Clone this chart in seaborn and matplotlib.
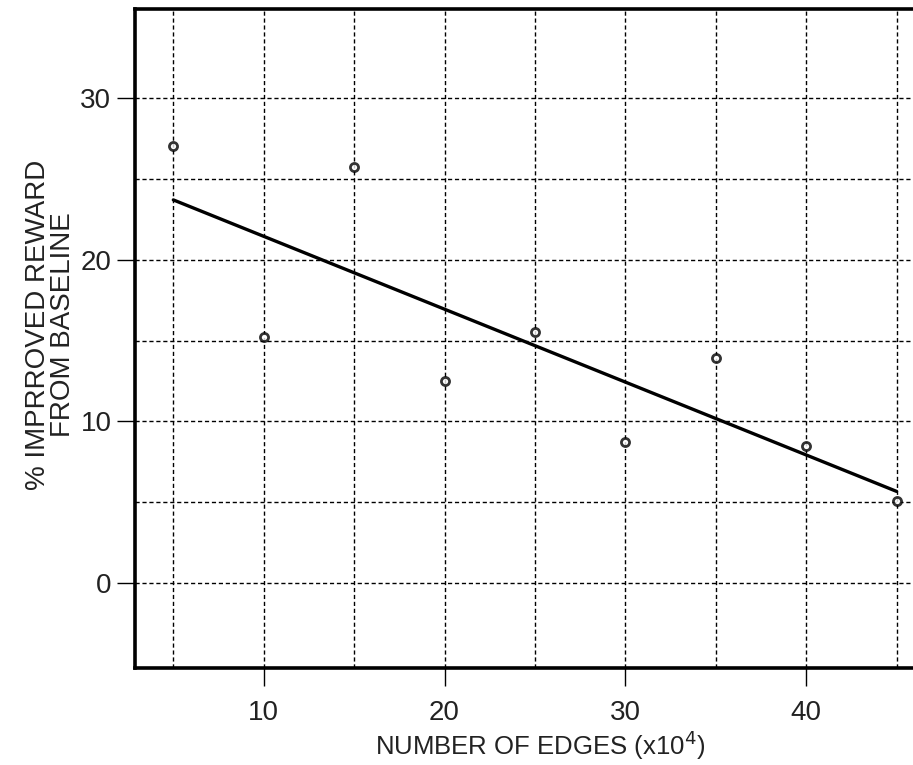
import matplotlib
matplotlib.use("Agg")
import matplotlib.pyplot as plt
import seaborn as sns
import pandas as pd
from matplotlib.ticker import FixedLocator

# Data
edges = [5, 10, 15, 20, 25, 30, 35, 40, 45]            # number of edges (x10^4)
improvement = [27.0, 15.2, 25.7, 12.5, 15.5, 8.75, 13.9, 8.5, 5.1]  # % improved reward
x_major = [10, 20, 30, 40]
x_minor = [5, 15, 25, 35, 45]
y_major = [0, 10, 20, 30]
y_minor = [5, 15, 25]

df = pd.DataFrame({"edges": edges, "improvement": improvement})

sns.set_style("white")
plt.rcParams["font.family"] = ["Liberation Sans", "DejaVu Sans"]

fig = plt.figure(figsize=(9.13, 7.65), dpi=100)
ax = fig.add_axes([135 / 913, 1 - 668.3 / 765, 1 - 135 / 913, (668.3 - 9) / 765])

sns.regplot(data=df, x="edges", y="improvement", ax=ax, ci=None,
            scatter_kws=dict(s=34, color="white", marker="o", edgecolor="black",
                             linewidths=2.0, zorder=3),
            line_kws=dict(color="black", lw=2.4, zorder=3))

ax.set_xlim(2.88, 45.91)
ax.set_ylim(-5.25, 35.48)

ax.xaxis.set_major_locator(FixedLocator(x_major))
ax.xaxis.set_minor_locator(FixedLocator(x_minor))
ax.yaxis.set_major_locator(FixedLocator(y_major))
ax.yaxis.set_minor_locator(FixedLocator(y_minor))

ax.grid(True, which="both", color="black", linestyle=(0, (3, 2)), linewidth=1.0)
ax.set_axisbelow(True)

ax.tick_params(axis="both", which="major", direction="out", length=13, width=1.0,
               color="black", labelsize=20, bottom=True, left=True)
ax.tick_params(axis="x", which="major", pad=10)
ax.tick_params(axis="y", which="major", pad=4)
ax.tick_params(axis="both", which="minor", length=0)
for lab in ax.get_xticklabels() + ax.get_yticklabels():
    lab.set_color("#222222")

for side in ["left", "bottom", "top"]:
    ax.spines[side].set_visible(True)
    ax.spines[side].set_color("black")
    ax.spines[side].set_linewidth(2.6)
ax.spines["right"].set_visible(False)

ax.set_xlabel("NUMBER OF EDGES (x10$^4$)", fontsize=18.5, color="#222222")
ax.xaxis.set_label_coords(0.5206, -0.091)
ax.xaxis.label.set_va("top")

ax.set_ylabel("% IMPRROVED REWARD\nFROM BASELINE", fontsize=20, color="#222222",
              linespacing=0.92)
ax.yaxis.set_label_coords(-0.076, 0.521)

fig.savefig("out.png", dpi=100)
